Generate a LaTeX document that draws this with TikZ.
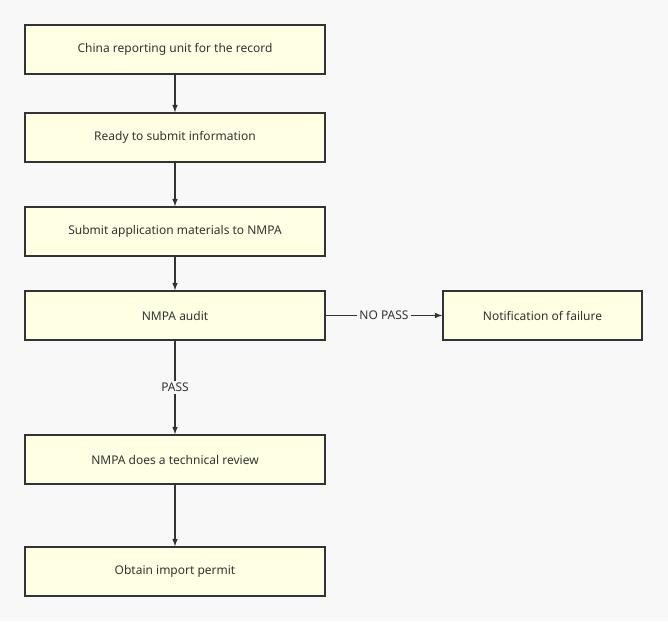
\documentclass[tikz,border=0pt]{standalone}
\usepackage{fontspec}
\setmainfont{Noto Sans}
\usetikzlibrary{positioning}
\definecolor{bgcol}{HTML}{F8F8F8}
\definecolor{boxfill}{HTML}{FFFFE3}
\definecolor{edgecol}{HTML}{333333}
\tikzset{
  stage/.style={draw=edgecol, line width=1.5pt, fill=boxfill, minimum width=300pt,
    minimum height=49pt, inner sep=0pt, font=\fontsize{12}{14}\selectfont, text=edgecol},
  flow/.style={draw=edgecol, line width=1.5pt, -latex},
  tag/.style={fill=bgcol, font=\fontsize{12}{14}\selectfont, text=edgecol, inner sep=2pt}
}
\begin{document}
\begin{tikzpicture}[x=1pt,y=1pt]
% background
\fill[bgcol] (0,0) rectangle (668,-621);
\useasboundingbox (0,0) rectangle (668,-621);

% stages
\node[stage] (record) at (175,-49.5) {China reporting unit for the record};
\node[stage] (ready) at (175,-137.5) {Ready to submit information};
\node[stage] (submit) at (175,-231.5) {Submit application materials to NMPA};
\node[stage] (audit) at (175,-315.5) {NMPA audit};
\node[stage, minimum width=199pt] (fail) at (542.5,-315.5) {Notification of failure};
\node[stage] (review) at (175,-459.5) {NMPA does a technical review};
\node[stage] (permit) at (175,-571.5) {Obtain import permit};

% connectors
\draw[flow] (record) -- (ready);
\draw[flow] (ready) -- (submit);
\draw[flow] (submit) -- (audit);
\draw[flow] (audit) -- node[tag] {NO PASS} (fail);
\draw[flow] (audit) -- node[tag, pos=0.5] {PASS} (review);
\draw[flow] (review) -- (permit);
\end{tikzpicture}
\end{document}
